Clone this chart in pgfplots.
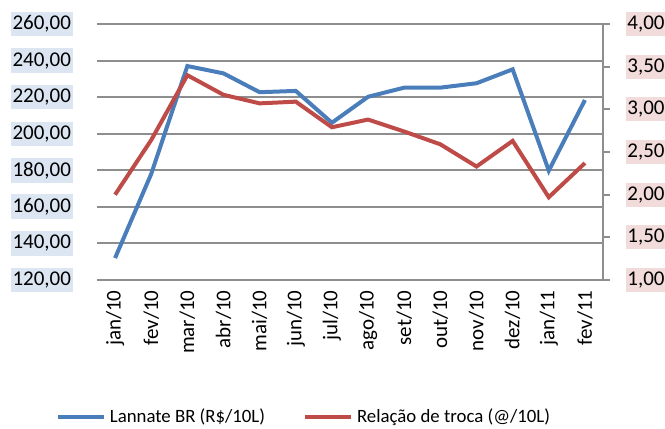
\documentclass[border=0pt]{standalone}
\usepackage{fontspec}
\setmainfont{Carlito}
\usepackage{pgfplots}
\usepackage{pgfplotstable}
\pgfplotsset{compat=1.18}
\definecolor{lblue}{HTML}{4A7EBB}
\definecolor{lred}{HTML}{BE4B48}
\definecolor{gridc}{HTML}{8E8E8E}
\definecolor{bgblue}{HTML}{DCE6F2}
\definecolor{bgred}{HTML}{F2DCDB}

\pgfplotstableread{
x blue red
0 132.0 2.00
1 178.0 2.64
2 237.0 3.40
3 233.0 3.17
4 222.7 3.07
5 223.4 3.09
6 206.0 2.79
7 220.2 2.88
8 225.2 2.74
9 225.2 2.59
10 227.6 2.33
11 235.2 2.63
12 179.8 1.97
13 218.4 2.37
}\data

\pgfplotsset{base/.style={
  scale only axis, width=253pt, height=128pt,
  xmin=-0.5, xmax=13.5,
  font=\fontsize{10.5}{12}\selectfont,
  /pgf/number format/assume math mode=true,
  /pgf/number format/use comma,
  /pgf/number format/fixed,
  /pgf/number format/fixed zerofill,
  /pgf/number format/precision=2,
}}

\begin{document}
\begin{tikzpicture}
\begin{axis}[base,
  ymin=120, ymax=260, ytick={120,140,...,260},
  ymajorgrids, grid style={gridc, line width=1pt},
  axis line style={draw=none},
  major tick length=0pt,
  xtick={0,...,13},
  xticklabels={jan/10,fev/10,mar/10,abr/10,mai/10,jun/10,jul/10,ago/10,set/10,out/10,nov/10,dez/10,jan/11,fev/11},
  xticklabel style={rotate=90, anchor=east, inner xsep=5pt},
  yticklabel style={fill=bgblue, inner xsep=0.8pt, inner ysep=2pt, xshift=-12pt},
  legend style={at={(0.411,-0.535)}, anchor=center, draw=none, legend columns=2,
    font=\fontsize{9.4}{11}\selectfont,
    /tikz/every even column/.append style={column sep=17pt}},
  legend image code/.code={\draw[#1] (0pt,0pt) -- (23pt,0pt);},
  legend cell align=left,
]
\addplot[lblue, line width=2pt] table[x=x, y=blue] {\data};
\addlegendentry{Lannate BR (R\$/10L)}
\addlegendimage{lred, line width=2pt}
\addlegendentry{Relação de troca (@/10L)}
\end{axis}
\begin{axis}[base,
  ymin=1, ymax=4, ytick={1,1.5,...,4},
  hide x axis,
  axis y line*=right,
  y axis line style={gridc, line width=1pt, -},
  tick align=outside,
  major tick length=3.5pt,
  tick style={gridc, line width=1pt},
  yticklabel style={fill=bgred, inner xsep=0.5pt, inner ysep=2pt, xshift=8pt},
]
\addplot[lred, line width=2pt] table[x=x, y=red] {\data};
\end{axis}
\pgfresetboundingbox
\path[use as bounding box] (-48.5pt,-74.5pt) rectangle (284pt,140pt);
\end{tikzpicture}
\end{document}
